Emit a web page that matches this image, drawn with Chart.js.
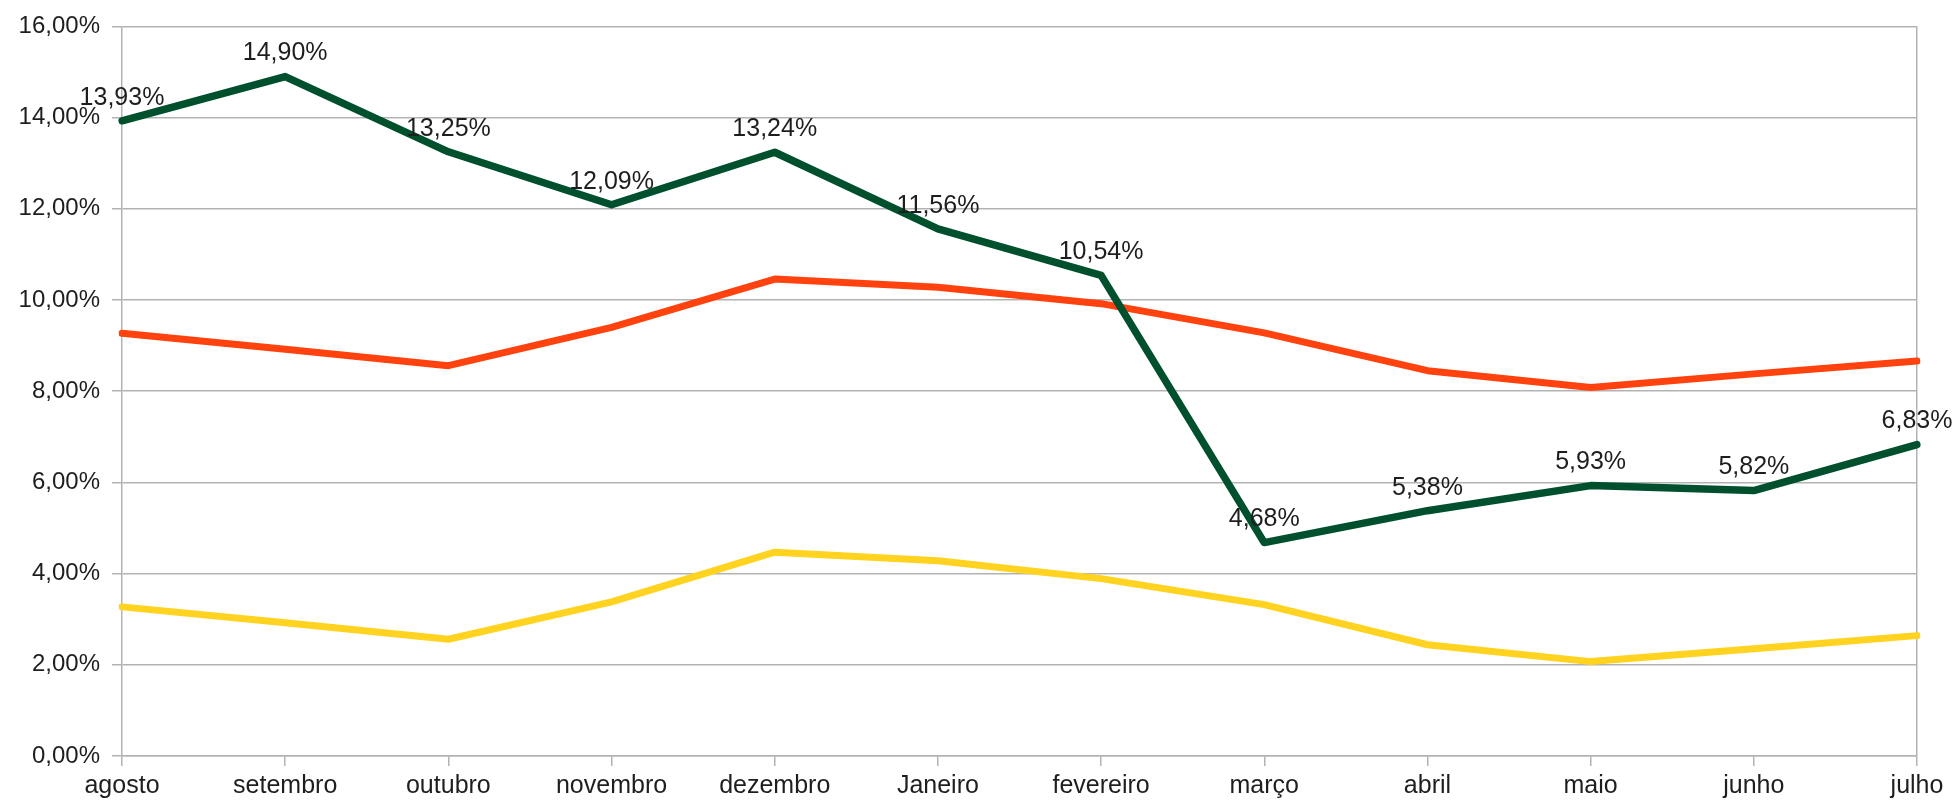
<!DOCTYPE html>
<html>
<head>
<meta charset="utf-8">
<script src="https://cdn.jsdelivr.net/npm/chart.js@4.4.1/dist/chart.umd.min.js"></script>
<style>
  html, body { margin: 0; padding: 0; background: #fff; }
  #wrap { width: 1958px; height: 803px; }
</style>
</head>
<body>
<div id="wrap"><canvas id="lineChart" width="1958" height="803"></canvas></div>
<script>
const months = ['agosto', 'setembro', 'outubro', 'novembro', 'dezembro', 'Janeiro',
    'fevereiro', 'março', 'abril', 'maio', 'junho', 'julho'];
const greenValues = [13.93, 14.90, 13.25, 12.09, 13.24, 11.56, 10.54, 4.68, 5.38, 5.93, 5.82, 6.83];
const redValues = [9.27, 8.92, 8.56, 9.40, 10.46, 10.28, 9.92, 9.28, 8.45, 8.08, 8.38, 8.66];
const yellowValues = [3.27, 2.92, 2.56, 3.38, 4.47, 4.28, 3.89, 3.32, 2.44, 2.07, 2.35, 2.64];

const fmt = v => v.toFixed(2).replace('.', ',') + '%';
const gridColor = '#b3b3b3';
const textColor = '#1e1e1e';
const fontFamily = '"Liberation Sans", Arial, sans-serif';

// labels above the green line
const greenLabels = {
    id: 'greenLabels',
    afterDatasetsDraw(chart) {
        const ctx = chart.ctx;
        const meta = chart.getDatasetMeta(0);
        ctx.save();
        ctx.font = '25px ' + fontFamily;
        ctx.fillStyle = textColor;
        ctx.textAlign = 'center';
        ctx.textBaseline = 'middle';
        meta.data.forEach((pt, i) => {
            ctx.fillText(fmt(greenValues[i]), pt.x, pt.y - 23);
        });
        ctx.restore();
    }
};

const ctxLine = document.getElementById('lineChart').getContext('2d');
new Chart(ctxLine, {
    type: 'line',
    data: {
        labels: months,
        datasets: [
            { data: greenValues, borderColor: '#00502e', borderWidth: 7.5 },
            { data: redValues, borderColor: '#ff420e', borderWidth: 7 },
            { data: yellowValues, borderColor: '#ffd320', borderWidth: 7 }
        ]
    },
    options: {
        responsive: false,
        animation: false,
        layout: { padding: { top: 26, right: 41, left: 0, bottom: 0 } },
        elements: {
            point: { radius: 0 },
            line: { tension: 0, borderJoinStyle: 'round', borderCapStyle: 'round' }
        },
        plugins: {
            legend: { display: false },
            tooltip: { enabled: false }
        },
        scales: {
            x: {
                offset: false,
                afterFit(scale) { scale.height = 47; },
                grid: {
                    color: c => (c.index === months.length - 1 ? gridColor : 'transparent'),
                    tickColor: gridColor,
                    tickLength: 10,
                    lineWidth: 1.5
                },
                border: { display: true, color: gridColor, width: 1.5 },
                ticks: {
                    color: textColor,
                    font: { family: fontFamily, size: 25 },
                    padding: 5,
                    maxRotation: 0,
                    autoSkip: false
                }
            },
            y: {
                min: 0,
                max: 16,
                afterFit(scale) { scale.width = 122; },
                grid: { color: gridColor, tickLength: 10, lineWidth: 1.5 },
                border: { display: true, color: gridColor, width: 1.5 },
                ticks: {
                    stepSize: 2,
                    color: textColor,
                    font: { family: fontFamily, size: 24 },
                    padding: 12,
                    callback: v => fmt(v)
                }
            }
        }
    },
    plugins: [greenLabels]
});
</script>
</body>
</html>
